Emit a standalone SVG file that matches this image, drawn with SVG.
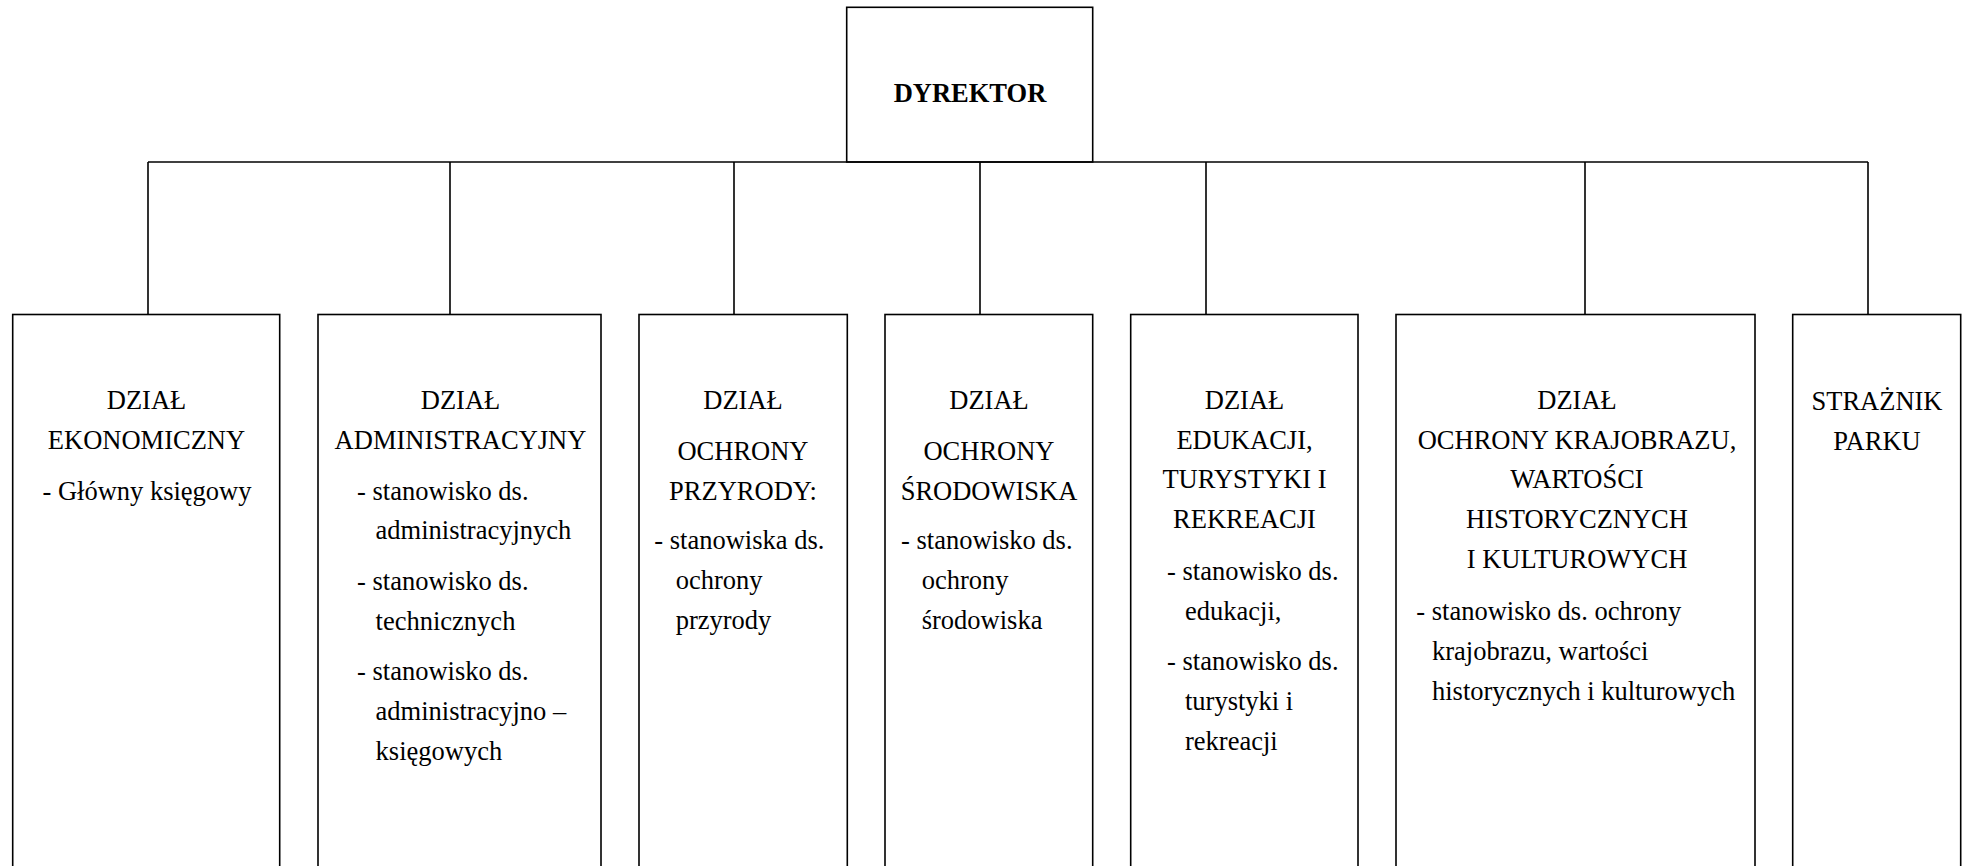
<svg xmlns="http://www.w3.org/2000/svg" width="1966" height="866" viewBox="0 0 1966 866">
<style>
.box{fill:none;stroke:#000;stroke-width:1.6}
.ln{fill:none;stroke:#000;stroke-width:1.6}
text{font-family:"Liberation Serif","Times New Roman",serif;font-size:26.5px;fill:#000}
.c{text-anchor:middle}
.b{font-weight:bold}
</style>
<rect width="1966" height="866" fill="#fff"/>
<g id="connectors">
<path class="ln" d="M148,162 H1868"/>
<path class="ln" d="M148,162 V314.5 M450,162 V314.5 M734,162 V314.5 M980,162 V314.5 M1206,162 V314.5 M1585,162 V314.5 M1868,162 V314.5"/>
</g>
<g id="dyrektor">
<rect class="box" x="846.7" y="7.3" width="246" height="154.7"/>
<text class="c b" x="970" y="101.7">DYREKTOR</text>
</g>
<g id="dzial-ekonomiczny">
<rect class="box" x="12.7" y="314.5" width="267" height="600"/>
<text class="c" x="146.5" y="409">DZIAŁ</text>
<text class="c" x="146.5" y="448.7">EKONOMICZNY</text>
<text class="c" x="147" y="499.6">- Główny księgowy</text>
</g>
<g id="dzial-administracyjny">
<rect class="box" x="318" y="314.5" width="283" height="600"/>
<text class="c" x="460.5" y="409">DZIAŁ</text>
<text class="c" x="460.5" y="448.7">ADMINISTRACYJNY</text>
<text x="357" y="499.6">- stanowisko ds.</text>
<text x="375.6" y="539.4">administracyjnych</text>
<text x="357" y="589.9">- stanowisko ds.</text>
<text x="375.6" y="629.6">technicznych</text>
<text x="357" y="680.1">- stanowisko ds.</text>
<text x="375.6" y="719.9">administracyjno –</text>
<text x="375.6" y="759.6">księgowych</text>
</g>
<g id="dzial-ochrony-przyrody">
<rect class="box" x="639" y="314.5" width="208.3" height="600"/>
<text class="c" x="743" y="409">DZIAŁ</text>
<text class="c" x="743" y="460">OCHRONY</text>
<text class="c" x="743" y="499.6">PRZYRODY:</text>
<text x="654.3" y="549">- stanowiska ds.</text>
<text x="675.7" y="589">ochrony</text>
<text x="675.7" y="629">przyrody</text>
</g>
<g id="dzial-ochrony-srodowiska">
<rect class="box" x="885" y="314.5" width="207.7" height="600"/>
<text class="c" x="989" y="409">DZIAŁ</text>
<text class="c" x="989" y="460">OCHRONY</text>
<text class="c" x="989" y="499.6">ŚRODOWISKA</text>
<text x="901" y="549">- stanowisko ds.</text>
<text x="921.7" y="589">ochrony</text>
<text x="921.7" y="629">środowiska</text>
</g>
<g id="dzial-edukacji">
<rect class="box" x="1130.7" y="314.5" width="227.3" height="600"/>
<text class="c" x="1244.5" y="409">DZIAŁ</text>
<text class="c" x="1244.5" y="448.7">EDUKACJI,</text>
<text class="c" x="1244.5" y="488.4">TURYSTYKI I</text>
<text class="c" x="1244.5" y="528.2">REKREACJI</text>
<text x="1167" y="579.8">- stanowisko ds.</text>
<text x="1185" y="619.5">edukacji,</text>
<text x="1167" y="670">- stanowisko ds.</text>
<text x="1185" y="709.7">turystyki i</text>
<text x="1185" y="749.5">rekreacji</text>
</g>
<g id="dzial-ochrony-krajobrazu">
<rect class="box" x="1396" y="314.5" width="359" height="600"/>
<text class="c" x="1577" y="409">DZIAŁ</text>
<text class="c" x="1577" y="448.7">OCHRONY KRAJOBRAZU,</text>
<text class="c" x="1577" y="488.4">WARTOŚCI</text>
<text class="c" x="1577" y="528.2">HISTORYCZNYCH</text>
<text class="c" x="1577" y="568">I KULTUROWYCH</text>
<text x="1416.3" y="620.4">- stanowisko ds. ochrony</text>
<text x="1432" y="660.2">krajobrazu, wartości</text>
<text x="1432" y="700">historycznych i kulturowych</text>
</g>
<g id="straznik-parku">
<rect class="box" x="1792.7" y="314.5" width="168" height="600"/>
<text class="c" x="1877" y="410">STRAŻNIK</text>
<text class="c" x="1877" y="449.5">PARKU</text>
</g>
</svg>
